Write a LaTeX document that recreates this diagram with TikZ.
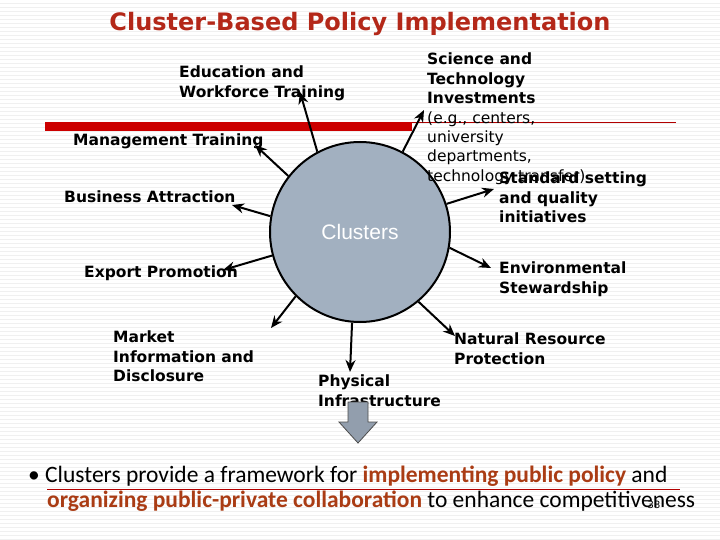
\documentclass[tikz,border=0pt]{standalone}
\usepackage{fontspec}
\setmainfont{DejaVu Sans}
\newfontfamily\carl{Carlito}
\newfontfamily\arial{Liberation Sans}
\usetikzlibrary{arrows.meta}
\definecolor{ttl}{RGB}{180,40,25}
\definecolor{brn}{RGB}{170,60,20}
\definecolor{cfill}{RGB}{162,176,192}
\begin{document}
\begin{tikzpicture}[x=1pt,y=-1pt,
 lbl/.style={font=\fontsize{15.5}{19.4}\selectfont\bfseries,align=left,inner sep=0pt,anchor=north west},
 arr/.style={-{Stealth[length=12pt,width=10pt]},line width=2pt}]
\useasboundingbox (0,0) rectangle (720,540);
\fill[white] (0,0) rectangle (720,540);
\foreach \y in {3,7,...,540} \draw[black!6,line width=0.6pt] (0,\y) -- (720,\y);
\node[font=\fontsize{24}{28}\selectfont\bfseries,text=ttl] (title) at (360,24) {Cluster-Based Policy Implementation};
\fill[red!80!black] (45,122) rectangle (412,131);
\draw[red!70!black,line width=0.8pt] (412,122) -- (676,122);
\node[circle,draw,line width=2pt,fill=cfill,minimum size=180pt,inner sep=0pt] (c) at (360,232) {};
\node[text=white,font=\arial\fontsize{21}{24}\selectfont] (ct) at (360,232) {Clusters};
\node[lbl] (edu) at (179,66) {Education and\\Workforce Training};
\node[lbl] (mgt) at (73,134) {Management Training};
\node[lbl] (bus) at (64,191) {Business Attraction};
\node[lbl] (exp) at (84,266) {Export Promotion};
\node[lbl] (mkt) at (113,331) {Market\\Information and\\Disclosure};
\node[lbl] (phy) at (318,375) {Physical\\Infrastructure};
\node[lbl] (nat) at (454,333) {Natural Resource\\Protection};
\node[lbl] (env) at (499,262) {Environmental\\Stewardship};
\node[lbl,align=left] (sci) at (427,53) {Science and\\Technology\\Investments\\{\mdseries (e.g., centers,}\\{\mdseries university}\\{\mdseries departments,}\\{\mdseries technology transfer)}};
\node[lbl] (std) at (499,172) {Standard setting\\and quality\\initiatives};
\coordinate (eE) at (300,92); \coordinate (mE) at (255,145);
\coordinate (bE) at (232,205); \coordinate (xE) at (223,270);
\coordinate (kE) at (271,328); \coordinate (pE) at (350,372);
\coordinate (nE) at (455,336); \coordinate (vE) at (491,268);
\coordinate (sE) at (494,189); \coordinate (tE) at (424,110);
\draw[arr] (c.118) -- (eE);
\draw[arr] (c.142) -- (mE);
\draw[arr] (c.170) -- (bE);
\draw[arr] (c.195) -- (xE);
\draw[arr] (c.225) -- (kE);
\draw[arr] (c.265) -- (pE);
\draw[arr] (c.310) -- (nE);
\draw[arr] (c.350) -- (vE);
\draw[arr] (c.18) -- (sE);
\draw[arr] (c.62) -- (tE);
\draw[fill=cfill!90!black,draw=gray!60!black,line width=0.8pt] (348,402) -- (368,402) -- (368,422) -- (377,422) -- (358,443) -- (339,422) -- (348,422) -- cycle;
\node[inner sep=0pt,anchor=west,font=\carl\fontsize{23.5}{28}\selectfont] (b1) at (28,476) {\textbullet\ Clusters provide a framework for \textcolor{brn}{\bfseries implementing public policy} and};
\node[inner sep=0pt,anchor=west,font=\carl\fontsize{23.5}{28}\selectfont] (b2) at (47,501) {\textcolor{brn}{\bfseries organizing public-private collaboration} to enhance competitiveness};
\draw[red!70!black,line width=0.8pt] (47,489) -- (680,489);
\node[font=\fontsize{10}{10}\selectfont,inner sep=0pt] (pg) at (654,505) {33};
\end{tikzpicture}
\end{document}
